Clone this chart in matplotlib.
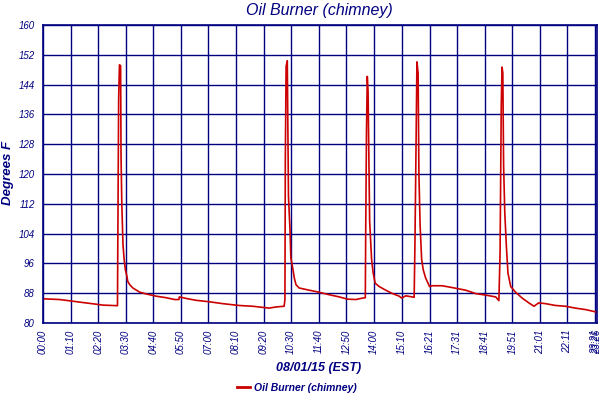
import matplotlib
matplotlib.use("Agg")
import matplotlib.pyplot as plt

# time in minutes since 00:00, temperature in degrees F
minutes = [0, 42, 72, 101, 131, 152, 189, 190, 192, 194, 197, 198, 200, 203, 206, 209, 213, 215,
           220, 228, 245, 262, 287, 312, 334, 345, 346, 363, 388, 422, 456, 498, 532, 557, 574,
           591, 612, 614, 615, 617, 620, 621, 623, 627, 629, 633, 638, 642, 650,
           676, 699, 726, 752, 773, 794, 807, 818, 819, 821, 823, 825, 827, 829, 834, 838, 843,
           853, 870, 887, 904, 910, 921, 942, 944, 947, 949, 952, 954, 957, 961, 965, 971, 981,
           988, 1013, 1039, 1073, 1098, 1123, 1149, 1157, 1160, 1163, 1165, 1167, 1169, 1172,
           1176, 1180, 1187, 1199, 1216, 1233, 1246, 1258, 1275, 1301, 1326, 1351, 1377, 1406]
temps = [86.5, 86.3, 85.9, 85.5, 85.1, 84.8, 84.65, 103.7, 140.2, 149.3, 149.1, 125.2, 112.0,
         101.0, 97.0, 94.3, 92.5, 91.2, 90.3, 89.4, 88.3, 87.8, 87.2, 86.8, 86.3, 86.3, 87.0,
         86.6, 86.1, 85.7, 85.2, 84.7, 84.5, 84.2, 84.0, 84.3, 84.5, 86.3, 124.0, 148.9, 150.4,
         137.7, 114.0, 104.6, 97.5, 95.2, 92.0, 90.3, 89.4,
         88.8, 88.3, 87.6, 87.0, 86.4, 86.3, 86.6, 86.8, 104.6, 131.7, 146.2, 142.2, 124.7,
         107.3, 97.0, 93.4, 90.7, 89.8, 88.8, 87.9, 87.2, 86.7, 87.3, 86.9, 101.7, 130.1, 150.1,
         147.1, 120.3, 106.4, 97.0, 94.3, 92.1, 89.8, 90.0, 90.0, 89.5, 88.8, 87.9, 87.5, 87.0,
         86.0, 98.8, 138.2, 148.7, 147.1, 122.1, 109.5, 100.6, 93.4, 89.8, 88.3, 86.7, 85.4,
         84.5, 85.4, 85.2, 84.7, 84.5, 84.0, 83.6, 82.9]

tick_labels = ["00:00", "01:10", "02:20", "03:30", "04:40", "05:50", "07:00", "08:10", "09:20",
               "10:30", "11:40", "12:50", "14:00", "15:10", "16:21", "17:31", "18:41", "19:51",
               "21:01", "22:11", "23:21", "23:26"]
tick_minutes = [0, 70, 140, 210, 280, 350, 420, 490, 560, 630, 700, 770, 840, 910, 981, 1051,
                1121, 1191, 1261, 1331, 1401, 1406]
y_ticks = [80, 88, 96, 104, 112, 120, 128, 136, 144, 152, 160]

NAVY = "#000080"
RED = "#CC0000"
FONT = "Liberation Sans"

fig = plt.figure(figsize=(6, 4), dpi=100)
ax = fig.add_axes([43/600, 1-323/400, (597-43)/600, (323-25)/400])

ax.plot(minutes, temps, color=RED, linewidth=1.2, label="Oil Burner (chimney)")

ax.set_xlim(0, 1406)
ax.set_ylim(80, 160)
ax.set_yticks(y_ticks)
ax.set_xticks(tick_minutes)
ax.set_xticklabels(tick_labels, rotation=90, fontsize=7, fontstyle="italic",
                   color=NAVY, family=FONT)
ax.set_yticklabels([str(v) for v in y_ticks], fontsize=7, fontstyle="italic",
                   color=NAVY, family=FONT)
ax.tick_params(axis="x", length=0, pad=5)
ax.tick_params(axis="y", length=0, pad=6)
ax.grid(True, color=NAVY, linewidth=1.0)
ax.set_axisbelow(True)
for s in ax.spines.values():
    s.set_color(NAVY)
    s.set_linewidth(1.2)

fig.text(319/600, 1-11/400, "Oil Burner (chimney)", ha="center", va="center",
         fontsize=11.5, fontstyle="italic", color=NAVY, family=FONT)
fig.text(8/600, 1-173/400, "Degrees F", ha="center", va="center", rotation=90,
         fontsize=9.5, fontstyle="italic", fontweight="bold", color=NAVY, family=FONT)
fig.text(319/600, 1-368/400, "08/01/15 (EST)", ha="center", va="center",
         fontsize=9, fontstyle="italic", fontweight="bold", color=NAVY, family=FONT)

leg = fig.legend(loc="center", bbox_to_anchor=(297/600, 1-388/400), frameon=False,
                 handlelength=1.2, handletextpad=0.4,
                 prop={"family": FONT, "size": 7.5, "style": "italic", "weight": "bold"})
for t in leg.get_texts():
    t.set_color(NAVY)
for h in leg.get_lines():
    h.set_linewidth(2)

fig.savefig("out.png", dpi=100)
